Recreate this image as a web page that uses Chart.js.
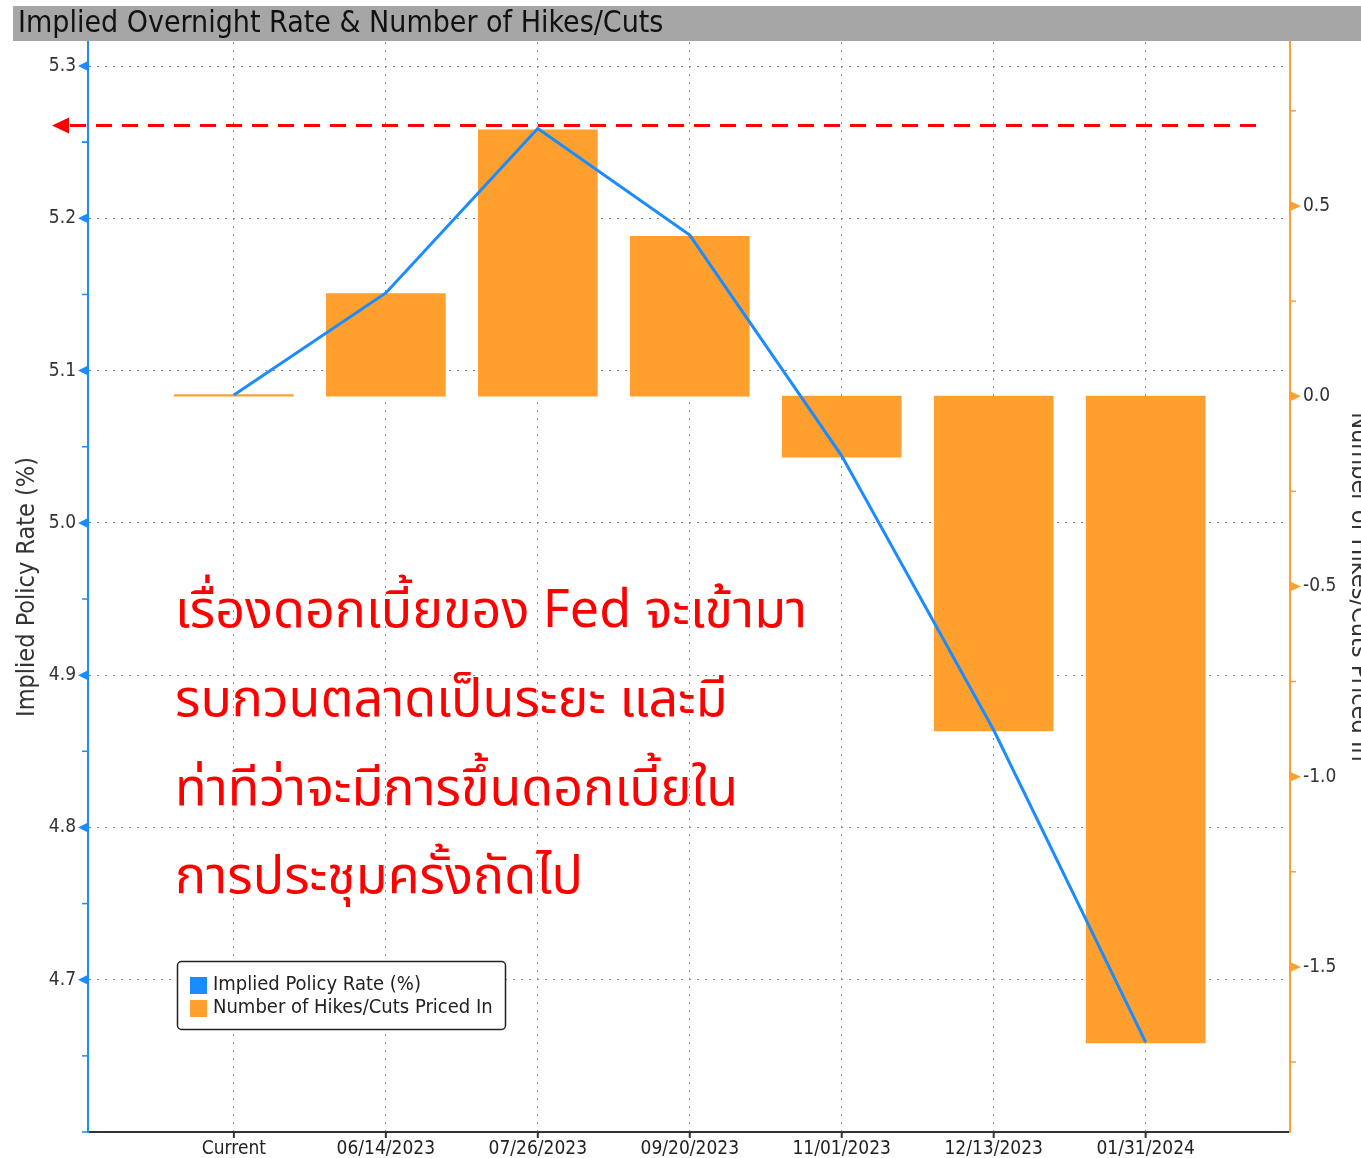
<!DOCTYPE html>
<html>
<head>
<meta charset="utf-8">
<script src="https://cdn.jsdelivr.net/npm/chart.js@4.4.0/dist/chart.umd.min.js"></script>
<style>
  html, body { margin: 0; padding: 0; background: #fff; }
  #wrap { width: 1361px; height: 1158px; overflow: hidden; }
</style>
</head>
<body>
<div id="wrap"><canvas id="chart" width="1361" height="1158"></canvas></div>
<script>
// meeting dates and values
const categories = ['Current', '06/14/2023', '07/26/2023', '09/20/2023', '11/01/2023', '12/13/2023', '01/31/2024'];
const impliedRate = [5.084, 5.151, 5.259, 5.189, 5.044, 4.864, 4.659];
const hikesCuts = [0.004, 0.27, 0.70, 0.42, -0.16, -0.88, -1.70];
const rateTicks = [4.7, 4.8, 4.9, 5.0, 5.1, 5.2, 5.3];
const hikeTicks = [-1.5, -1.0, -0.5, 0.0, 0.5];
const peakRate = 5.261;
const chartTitle = 'Implied Overnight Rate & Number of Hikes/Cuts';
const noteLines = [
  'เรื่องดอกเบี้ยของ Fed จะเข้ามา',
  'รบกวนตลาดเป็นระยะ และมี',
  'ท่าทีว่าจะมีการขึ้นดอกเบี้ยใน',
  'การประชุมครั้งถัดไป'
];

const blue = '#1a8cff';
const orange = '#ff9f2e';
const gridGray = '#8a8a8a';
const fontFam = '"DejaVu Sans Condensed", "DejaVu Sans", sans-serif';
const thaiFam = '"Noto Sans Thai", Loma, Garuda, Waree, "Noto Sans", sans-serif';

const overlay = {
    id: 'overlay',
    beforeDraw: function (chart) {
        let ctx = chart.ctx;
        ctx.save();
        ctx.fillStyle = '#fff';
        ctx.fillRect(0, 0, chart.width, chart.height);
        ctx.fillStyle = '#a6a6a6';
        ctx.fillRect(13, 6, chart.width - 13, 35);
        ctx.fillStyle = '#111';
        ctx.font = '30px ' + fontFam;
        ctx.textBaseline = 'middle';
        ctx.fillText(chartTitle, 18, 24);
        ctx.restore();
    },
    afterDraw: function (chart) {
        let ctx = chart.ctx
           ,a = chart.chartArea
           ,x = chart.scales.x
           ,y = chart.scales.y
           ,y1 = chart.scales.y1;
        ctx.save();

        // left axis: triangles on majors, short ticks on minors
        ctx.fillStyle = blue;
        ctx.strokeStyle = blue;
        ctx.lineWidth = 1.5;
        rateTicks.forEach(v => {
            let p = y.getPixelForValue(v);
            ctx.beginPath();
            ctx.moveTo(a.left, p - 5);
            ctx.lineTo(a.left - 10, p);
            ctx.lineTo(a.left, p + 5);
            ctx.fill();
            let m = y.getPixelForValue(v - 0.05);
            ctx.beginPath();
            ctx.moveTo(a.left - 6, m);
            ctx.lineTo(a.left, m);
            ctx.stroke();
        });
        ctx.beginPath();
        ctx.moveTo(a.left - 6, y.getPixelForValue(5.25));
        ctx.lineTo(a.left, y.getPixelForValue(5.25));
        ctx.moveTo(a.left - 6, a.bottom);
        ctx.lineTo(a.left, a.bottom);
        ctx.stroke();

        // right axis
        ctx.fillStyle = orange;
        ctx.strokeStyle = orange;
        hikeTicks.forEach(v => {
            let p = y1.getPixelForValue(v);
            ctx.beginPath();
            ctx.moveTo(a.right, p - 5);
            ctx.lineTo(a.right + 11, p);
            ctx.lineTo(a.right, p + 5);
            ctx.fill();
        });
        [0.75, 0.25, -0.25, -0.75, -1.25, -1.75].forEach(v => {
            let p = y1.getPixelForValue(v);
            ctx.beginPath();
            ctx.moveTo(a.right, p);
            ctx.lineTo(a.right + 6, p);
            ctx.stroke();
        });

        // x tick marks
        ctx.strokeStyle = '#333';
        ctx.lineWidth = 2;
        categories.forEach((c, i) => {
            let p = x.getPixelForValue(i);
            ctx.beginPath();
            ctx.moveTo(p, a.bottom);
            ctx.lineTo(p, a.bottom + 6);
            ctx.stroke();
        });

        // red dashed arrow at the peak
        let py = y.getPixelForValue(peakRate);
        ctx.strokeStyle = '#ff0000';
        ctx.fillStyle = '#ff0000';
        ctx.lineWidth = 3;
        ctx.setLineDash([16, 10]);
        ctx.beginPath();
        ctx.moveTo(70, py);
        ctx.lineTo(1262, py);
        ctx.stroke();
        ctx.setLineDash([]);
        ctx.beginPath();
        ctx.moveTo(52, py);
        ctx.lineTo(69, py - 8);
        ctx.lineTo(69, py + 8);
        ctx.fill();

        // thai note
        ctx.font = '52px ' + thaiFam;
        ctx.textBaseline = 'alphabetic';
        [627, 716, 805, 893].forEach((ty, i) => {
            ctx.fillText(noteLines[i], 175, ty);
        });

        // legend box
        ctx.lineWidth = 1.5;
        ctx.strokeStyle = '#222';
        ctx.fillStyle = '#fff';
        ctx.beginPath();
        ctx.roundRect(177.5, 961.5, 328, 68, 4);
        ctx.fill();
        ctx.stroke();
        ctx.font = '20px ' + fontFam;
        ctx.textBaseline = 'middle';
        chart.data.datasets.forEach((ds, i) => {
            let ly = 985 + i * 23;
            ctx.fillStyle = i === 0 ? blue : orange;
            ctx.fillRect(190, ly - 8, 17, 17);
            ctx.fillStyle = '#222';
            ctx.fillText(ds.label, 213, ly);
        });
        ctx.restore();
    }
};

new Chart(document.getElementById('chart'), {
    type: 'bar',
    data: {
        datasets: [{
            type: 'line',
            label: 'Implied Policy Rate (%)',
            data: impliedRate.map((v, i) => ({x: i, y: v})),
            borderColor: blue,
            borderWidth: 3,
            pointRadius: 0,
            tension: 0,
            yAxisID: 'y'
        }, {
            type: 'bar',
            label: 'Number of Hikes/Cuts Priced In',
            data: hikesCuts.map((v, i) => ({x: i, y: v})),
            backgroundColor: orange,
            barThickness: 119,
            yAxisID: 'y1'
        }]
    },
    options: {
        responsive: false,
        animation: false,
        layout: { padding: { top: 42, left: 0, right: 0, bottom: 0 } },
        plugins: { legend: { display: false }, tooltip: { enabled: false } },
        scales: {
            x: {
                type: 'linear',
                min: -0.96,
                max: 6.95,
                offset: false,
                afterBuildTicks: s => { s.ticks = categories.map((c, i) => ({value: i})); },
                afterFit: s => { s.height = 26; },
                ticks: {
                    callback: v => categories[v],
                    color: '#222',
                    font: { family: fontFam, size: 19 },
                    padding: 6,
                    autoSkip: false,
                    maxRotation: 0
                },
                grid: { color: gridGray, drawTicks: false, offset: false },
                border: { color: '#333', width: 2, dash: [2, 6] }
            },
            y: {
                position: 'left',
                min: 4.6,
                max: 5.3158,
                afterBuildTicks: s => { s.ticks = rateTicks.map(v => ({value: v})); },
                afterFit: s => { s.width = 88; },
                ticks: {
                    callback: v => v.toFixed(1),
                    color: '#333',
                    font: { family: fontFam, size: 19 },
                    padding: 12
                },
                grid: { color: gridGray, drawTicks: false },
                border: { color: blue, width: 2, dash: [2, 6] },
                title: {
                    display: true,
                    text: 'Implied Policy Rate (%)',
                    color: '#333',
                    font: { family: fontFam, size: 25 },
                    padding: { top: 12 }
                }
            },
            y1: {
                position: 'right',
                min: -1.934,
                max: 0.931,
                afterBuildTicks: s => { s.ticks = hikeTicks.map(v => ({value: v})); },
                afterFit: s => { s.width = 71; },
                ticks: {
                    callback: v => v.toFixed(1),
                    color: '#333',
                    font: { family: fontFam, size: 19 },
                    padding: 13
                },
                grid: { display: false, drawTicks: false },
                border: { color: orange, width: 2 },
                title: {
                    display: true,
                    text: 'Number of Hikes/Cuts Priced In',
                    color: '#333',
                    font: { family: fontFam, size: 25 },
                    padding: { top: -12 }
                }
            }
        }
    },
    plugins: [overlay]
});
</script>
</body>
</html>
